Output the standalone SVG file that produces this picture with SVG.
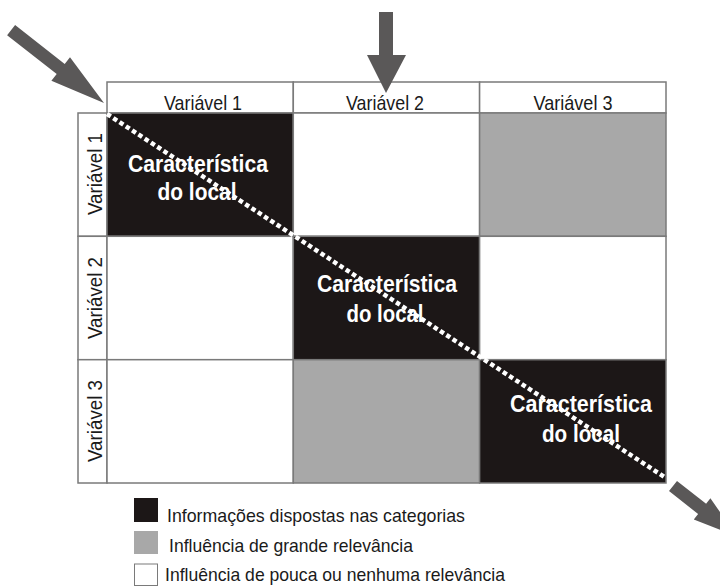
<svg xmlns="http://www.w3.org/2000/svg" width="720" height="587" viewBox="0 0 720 587">
<style>
.cell{stroke:#7a7a7a;stroke-width:1.5}
.w{fill:#ffffff}
.k{fill:#1c1717}
.g{fill:#a8a8a8}
.hd{font-family:"Liberation Sans",Arial,sans-serif;font-size:21px;fill:#1a1a1a;text-anchor:middle}
.ct{font-family:"Liberation Sans",Arial,sans-serif;font-size:24px;font-weight:bold;fill:#ffffff;text-anchor:middle}
.lg{font-family:"Liberation Sans",Arial,sans-serif;font-size:19px;fill:#1a1a1a}
.arr{fill:#5a5858}
.diag{stroke:#ffffff;stroke-width:4.5;stroke-dasharray:4.5 3;fill:none}
</style>
<rect width="720" height="587" fill="#ffffff"/>
<g id="col-header-1"><rect class="cell w" x="107" y="82" width="186.3" height="31"/><text class="hd" x="203" y="110" textLength="78" lengthAdjust="spacingAndGlyphs">Variável 1</text></g>
<g id="col-header-2"><rect class="cell w" x="293.3" y="82" width="186.3" height="31"/><text class="hd" x="385" y="110" textLength="78" lengthAdjust="spacingAndGlyphs">Variável 2</text></g>
<g id="col-header-3"><rect class="cell w" x="479.6" y="82" width="186.4" height="31"/><text class="hd" x="573" y="110" textLength="79" lengthAdjust="spacingAndGlyphs">Variável 3</text></g>
<g id="row-header-1"><rect class="cell w" x="78" y="113" width="29" height="123.3"/><text class="hd" transform="translate(102,174) rotate(-90)" textLength="82" lengthAdjust="spacingAndGlyphs">Variável 1</text></g>
<g id="row-header-2"><rect class="cell w" x="78" y="236.3" width="29" height="123.4"/><text class="hd" transform="translate(102,298) rotate(-90)" textLength="82" lengthAdjust="spacingAndGlyphs">Variável 2</text></g>
<g id="row-header-3"><rect class="cell w" x="78" y="359.7" width="29" height="123.3"/><text class="hd" transform="translate(102,421) rotate(-90)" textLength="82" lengthAdjust="spacingAndGlyphs">Variável 3</text></g>
<g id="cell-1-1"><rect class="cell k" x="107" y="113" width="186.3" height="123.3"/><text class="ct" x="198" y="172" textLength="140" lengthAdjust="spacingAndGlyphs">Característica</text><text class="ct" x="197" y="200" textLength="79" lengthAdjust="spacingAndGlyphs">do local</text></g>
<g id="cell-1-2"><rect class="cell w" x="293.3" y="113" width="186.3" height="123.3"/></g>
<g id="cell-1-3"><rect class="cell g" x="479.6" y="113" width="186.4" height="123.3"/></g>
<g id="cell-2-1"><rect class="cell w" x="107" y="236.3" width="186.3" height="123.4"/></g>
<g id="cell-2-2"><rect class="cell k" x="293.3" y="236.3" width="186.3" height="123.4"/><text class="ct" x="387" y="292" textLength="140" lengthAdjust="spacingAndGlyphs">Característica</text><text class="ct" x="385" y="322" textLength="77" lengthAdjust="spacingAndGlyphs">do local</text></g>
<g id="cell-2-3"><rect class="cell w" x="479.6" y="236.3" width="186.4" height="123.4"/></g>
<g id="cell-3-1"><rect class="cell w" x="107" y="359.7" width="186.3" height="123.3"/></g>
<g id="cell-3-2"><rect class="cell g" x="293.3" y="359.7" width="186.3" height="123.3"/></g>
<g id="cell-3-3"><rect class="cell k" x="479.6" y="359.7" width="186.4" height="123.3"/><text class="ct" x="581" y="412" textLength="142" lengthAdjust="spacingAndGlyphs">Característica</text><text class="ct" x="581" y="442" textLength="78" lengthAdjust="spacingAndGlyphs">do local</text></g>
<g id="legend-1"><rect x="134" y="498" width="24" height="24" fill="#1c1717"/><text class="lg" x="167" y="522" textLength="298" lengthAdjust="spacingAndGlyphs">Informações dispostas nas categorias</text></g>
<g id="legend-2"><rect x="134" y="531" width="24" height="23" fill="#a8a8a8"/><text class="lg" x="169" y="552" textLength="244" lengthAdjust="spacingAndGlyphs">Influência de grande relevância</text></g>
<g id="legend-3"><rect x="134.5" y="564" width="23" height="21.5" fill="#ffffff" stroke="#7a7a7a" stroke-width="1"/><text class="lg" x="165" y="581" textLength="340" lengthAdjust="spacingAndGlyphs">Influência de pouca ou nenhuma relevância</text></g>
<g id="connectors">
<line class="diag" x1="107" y1="114" x2="666" y2="478"/>
<polygon class="arr" points="15.1,25 64.7,63.9 70,57.2 104,103 51.4,80.8 56.7,74.1 7.1,35.2"/>
<polygon class="arr" points="379,12 393,12 393,55 406,55 386,93 367,55 379,55"/>
<polygon class="arr" points="677,480.9 706.1,503.8 710.4,498.3 736.7,536.1 693.8,519.5 698.1,514 669,491.1"/>
</g>
</svg>
